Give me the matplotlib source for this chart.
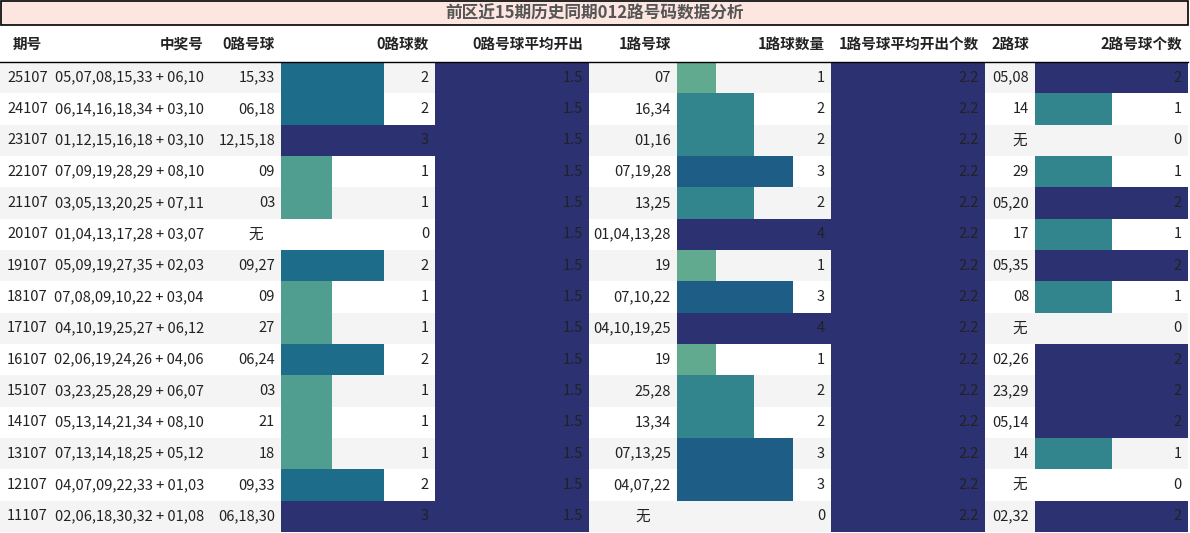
import matplotlib
matplotlib.use("Agg")
import matplotlib.pyplot as plt
import seaborn as sns
from matplotlib.patches import Rectangle

plt.rcParams['font.family'] = ['Noto Sans CJK SC', 'DejaVu Sans']

title = "前区近15期历史同期012路号码数据分析"
headers = ["期号", "中奖号", "0路号球", "0路球数", "0路号球平均开出", "1路号球", "1路球数量", "1路号球平均开出个数", "2路球", "2路号球个数"]
periods = ["25107","24107","23107","22107","21107","20107","19107","18107","17107","16107","15107","14107","13107","12107","11107"]
draws = ["05,07,08,15,33 + 06,10","06,14,16,18,34 + 03,10","01,12,15,16,18 + 03,10","07,09,19,28,29 + 08,10",
         "03,05,13,20,25 + 07,11","01,04,13,17,28 + 03,07","05,09,19,27,35 + 02,03","07,08,09,10,22 + 03,04",
         "04,10,19,25,27 + 06,12","02,06,19,24,26 + 04,06","03,23,25,28,29 + 06,07","05,13,14,21,34 + 08,10",
         "07,13,14,18,25 + 05,12","04,07,09,22,33 + 01,03","02,06,18,30,32 + 01,08"]
r0 = ["15,33","06,18","12,15,18","09","03","无","09,27","09","27","06,24","03","21","18","09,33","06,18,30"]
c0 = [2,2,3,1,1,0,2,1,1,2,1,1,1,2,3]
avg0 = 1.5
r1 = ["07","16,34","01,16","07,19,28","13,25","01,04,13,28","19","07,10,22","04,10,19,25","19","25,28","13,34","07,13,25","04,07,22","无"]
c1 = [1,2,2,3,2,4,1,3,4,1,2,2,3,3,0]
avg1 = 2.2
r2 = ["05,08","14","无","29","05,20","17","05,35","08","无","02,26","23,29","05,14","14","无","02,32"]
c2 = [2,1,0,1,2,1,2,1,0,2,2,2,1,0,2]

W, H = 1190, 533
fig = plt.figure(figsize=(W/100, H/100), dpi=100)
ax = fig.add_axes([0, 0, 1, 1])
ax.set_xlim(0, W); ax.set_ylim(H, 0); ax.axis('off')

cols = [0, 55, 210, 281, 435, 589, 677, 831, 985, 1035, 1188]
top_rows, head_h = 62, 37
rh = (532 - top_rows) / 15
cmap = sns.color_palette("crest", as_cmap=True)
navy = cmap(1.0)
txt = "#222222"

ax.add_patch(Rectangle((1, 1), 1187, 24, facecolor="#fde6e0", edgecolor="black", lw=1.2))
ax.text(W/2, 13.5, title, ha="center", va="center", fontsize=12, fontweight="bold", color="#555555")
for i, h in enumerate(headers):
    x = (cols[i]+cols[i+1])/2 if i == 0 else cols[i+1]-6
    ax.text(x, 25+head_h/2, h, ha="center" if i == 0 else "right", va="center", fontsize=10.5, fontweight="bold", color=txt)
ax.plot([0, 1188], [top_rows, top_rows], color="black", lw=1)

def bar(ci, y, v, vmax):
    if v > 0:
        w = (cols[ci+1]-cols[ci]) * v / vmax
        ax.add_patch(Rectangle((cols[ci], y), w, rh, facecolor=cmap(v/vmax), lw=0))

for r in range(15):
    y = top_rows + r*rh
    if r % 2 == 0:
        ax.add_patch(Rectangle((0, y), 1188, rh, facecolor="#f4f4f4", lw=0))
    bar(3, y, c0[r], max(c0))
    bar(6, y, c1[r], max(c1))
    bar(9, y, c2[r], max(c2))
    ax.add_patch(Rectangle((cols[4], y), cols[5]-cols[4], rh, facecolor=navy, lw=0))
    ax.add_patch(Rectangle((cols[7], y), cols[8]-cols[7], rh, facecolor=navy, lw=0))
    vals = [periods[r], draws[r], r0[r], str(c0[r]), f"{avg0}", r1[r], str(c1[r]), f"{avg1}", r2[r], str(c2[r])]
    yc = y + rh/2
    for i, v in enumerate(vals):
        if i == 0:
            ax.text((cols[0]+cols[1])/2, yc, v, ha="center", va="center", fontsize=10.5, color=txt)
        elif v == "无":
            ax.text((cols[i]+cols[i+1])/2 + 10, yc, v, ha="center", va="center", fontsize=10.5, color=txt)
        else:
            ax.text(cols[i+1]-6, yc, v, ha="right", va="center", fontsize=10.5, color=txt)

fig.savefig("out.png", dpi=100)
